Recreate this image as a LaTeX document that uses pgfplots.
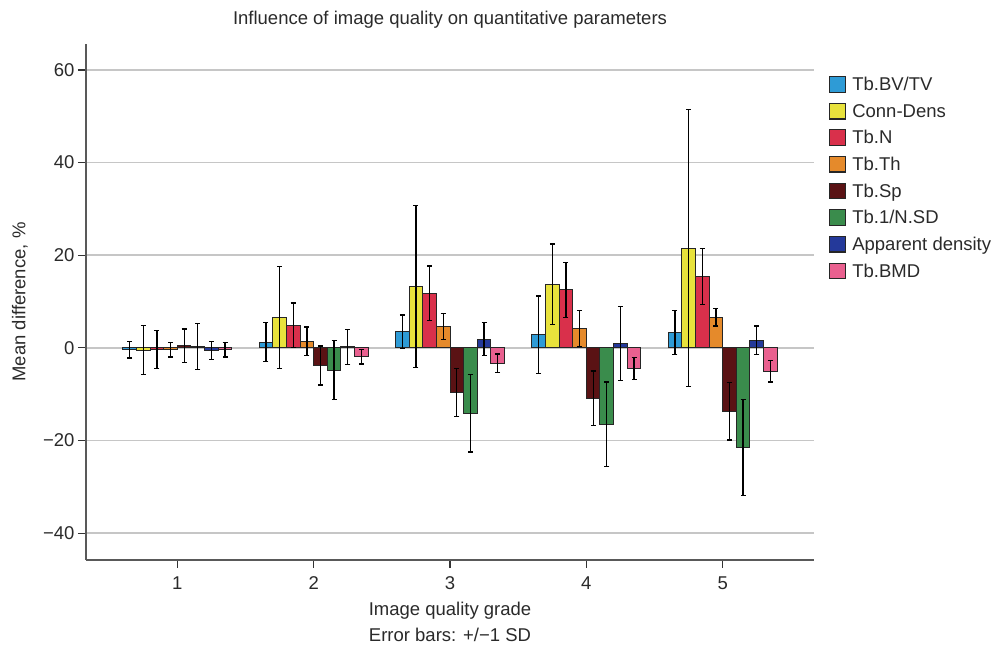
\documentclass[border=0pt]{standalone}
\usepackage{pgfplots}
\usepackage{pgfplotstable}
\pgfplotsset{compat=1.18}
\usepackage{fontspec}
\setmainfont{Liberation Sans}
\definecolor{cBlue}{HTML}{2E9BD6}
\definecolor{cYellow}{HTML}{E8E23C}
\definecolor{cRed}{HTML}{D9304B}
\definecolor{cOrange}{HTML}{E58A2B}
\definecolor{cDark}{HTML}{5A1214}
\definecolor{cGreen}{HTML}{3A8C4C}
\definecolor{cNavy}{HTML}{24399A}
\definecolor{cPink}{HTML}{E9608F}
\definecolor{txt}{HTML}{2A2A2A}

\pgfplotstableread{
x y e
1 -0.4 1.8
2 1.2 4.2
3 3.5 3.6
4 2.8 8.4
5 3.3 4.7
}\tA
\pgfplotstableread{
x y e
1 -0.5 5.3
2 6.6 11.0
3 13.2 17.5
4 13.7 8.7
5 21.5 29.9
}\tB
\pgfplotstableread{
x y e
1 -0.4 4.1
2 4.9 4.8
3 11.8 5.9
4 12.5 6.0
5 15.4 6.0
}\tC
\pgfplotstableread{
x y e
1 -0.4 1.6
2 1.4 3.1
3 4.6 2.8
4 4.2 3.9
5 6.6 1.9
}\tD
\pgfplotstableread{
x y e
1 0.5 3.6
2 -3.8 4.2
3 -9.6 5.2
4 -10.9 5.9
5 -13.7 6.2
}\tE
\pgfplotstableread{
x y e
1 0.3 5.0
2 -4.8 6.4
3 -14.1 8.4
4 -16.5 9.1
5 -21.5 10.3
}\tF
\pgfplotstableread{
x y e
1 -0.6 1.9
2 0.2 3.8
3 1.9 3.5
4 0.9 8.0
5 1.6 3.1
}\tG
\pgfplotstableread{
x y e
1 -0.4 1.6
2 -1.9 1.6
3 -3.3 2.0
4 -4.5 2.4
5 -5.1 2.3
}\tH

\begin{document}
\begin{tikzpicture}[font=\fontsize{18.5}{22}\selectfont, text=txt]
\begin{axis}[
  at={(0,0)}, anchor=south west,
  scale only axis, width=728pt, height=516pt,
  xmin=0.33, xmax=5.67, ymin=-45.8, ymax=65.6,
  ybar=0pt, bar width=0.1,
  xtick={1,2,3,4,5},
  ytick={-40,-20,0,20,40,60},
  yticklabels={−40,−20,0,20,40,60},
  axis x line*=bottom, axis y line*=left,
  axis line style={draw=black!65, line width=1.5pt},
  tick style={draw=black!80, line width=1.2pt},
  major tick length=8pt, tick align=outside,
  ymajorgrids, grid style={draw=gray!45, line width=1.5pt},
  /pgf/number format/assume math mode=true,
  ticklabel style={font=\fontsize{18.5}{22}\selectfont},
  xticklabel style={yshift=-5pt},
  title={Influence of image quality on quantitative parameters},
  title style={at={(axis description cs:0.5,1)}, anchor=center, yshift=18pt},
  xlabel={Image quality grade\\[4pt]Error bars: +/−1 SD},
  xlabel style={align=center, yshift=-6pt},
  ylabel={Mean difference, \%},
  ylabel style={at={(axis description cs:-0.0907,0.5)}, anchor=center},
  legend style={at={(axis description cs:1.0206,0.938)}, anchor=north west,
    draw=none, fill=none, inner sep=0pt, row sep=9.6pt,
    nodes={inner sep=1pt, anchor=west}},
  legend cell align=left,
  legend image code/.code={\draw[#1, draw=black!85, line width=1.2pt] (0pt,-7.5pt) rectangle (16pt,8pt);\path (21pt,0pt);},
  error bars/error bar style={draw=black, line width=1.3pt},
  error bars/error mark options={draw=black, line width=1.3pt, mark size=2.5pt, rotate=90},
]
\addplot[fill=cBlue, draw=black!85, line width=1pt, error bars/.cd, y dir=both, y explicit] table[x=x,y=y,y error=e]{\tA};
\addplot[fill=cYellow, draw=black!85, line width=1pt, error bars/.cd, y dir=both, y explicit] table[x=x,y=y,y error=e]{\tB};
\addplot[fill=cRed, draw=black!85, line width=1pt, error bars/.cd, y dir=both, y explicit] table[x=x,y=y,y error=e]{\tC};
\addplot[fill=cOrange, draw=black!85, line width=1pt, error bars/.cd, y dir=both, y explicit] table[x=x,y=y,y error=e]{\tD};
\addplot[fill=cDark, draw=black!85, line width=1pt, error bars/.cd, y dir=both, y explicit] table[x=x,y=y,y error=e]{\tE};
\addplot[fill=cGreen, draw=black!85, line width=1pt, error bars/.cd, y dir=both, y explicit] table[x=x,y=y,y error=e]{\tF};
\addplot[fill=cNavy, draw=black!85, line width=1pt, error bars/.cd, y dir=both, y explicit] table[x=x,y=y,y error=e]{\tG};
\addplot[fill=cPink, draw=black!85, line width=1pt, error bars/.cd, y dir=both, y explicit] table[x=x,y=y,y error=e]{\tH};
\legend{Tb.BV/TV,Conn-Dens,Tb.N,Tb.Th,Tb.Sp,Tb.1/N.SD,Apparent density,Tb.BMD}
\end{axis}
\pgfresetboundingbox
\path (-86pt,-87pt) rectangle (912pt,560pt);
\end{tikzpicture}
\end{document}
